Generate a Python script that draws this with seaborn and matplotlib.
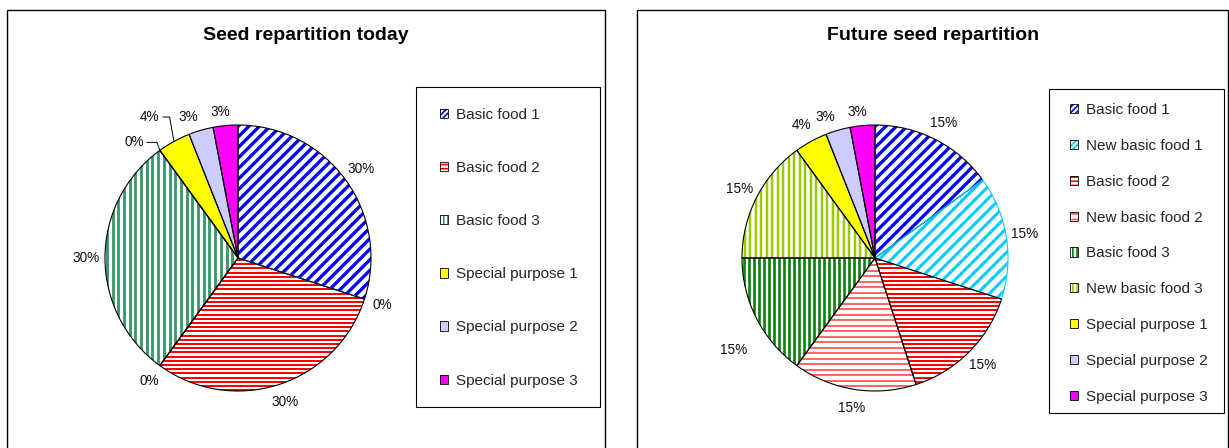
"""
Seed repartition pies: today vs. future.
"""

import numpy as np
import matplotlib
matplotlib.use('Agg')
import matplotlib.pyplot as plt
import seaborn as sns
from matplotlib.patches import Rectangle
from matplotlib.collections import LineCollection
from matplotlib.legend_handler import HandlerTuple

sns.set_theme(style='white')
plt.rcParams['font.family'] = ['Liberation Sans', 'DejaVu Sans']
plt.rcParams['hatch.linewidth'] = 1.2

# ---- data ----
categories = ['Basic food 1', 'New basic food 1', 'Basic food 2', 'New basic food 2',
              'Basic food 3', 'New basic food 3',
              'Special purpose 1', 'Special purpose 2', 'Special purpose 3']
today_pct = [30, 0, 30, 0, 30, 0, 4, 3, 3]
future_pct = [15, 15, 15, 15, 15, 15, 4, 3, 3]
today_legend = ['Basic food 1', 'Basic food 2', 'Basic food 3',
                'Special purpose 1', 'Special purpose 2', 'Special purpose 3']
future_legend = categories
titles = ['Seed repartition today', 'Future seed repartition']

# ---- styles (stripe step / width in pixels) ----
FUTURE_STYLE = {
    'Basic food 1': dict(color='#0000ff', angle=45, step=7.5, width=3.3, hatch='//////'),
    'New basic food 1': dict(color='#00ccff', angle=45, step=8.5, width=3.0, hatch='//////', edge='#00ccff'),
    'Basic food 2': dict(color='#ff0000', angle=0, step=4.2, width=2.0, hatch='----'),
    'New basic food 2': dict(color='#ff5555', angle=0, step=5.5, width=1.8, hatch='---'),
    'Basic food 3': dict(color='#008000', angle=90, step=5.0, width=2.6, hatch='||||'),
    'New basic food 3': dict(color='#99cc00', angle=90, step=5.5, width=2.5, hatch='||||'),
    'Special purpose 1': dict(color='#ffff00'),
    'Special purpose 2': dict(color='#ccccff'),
    'Special purpose 3': dict(color='#ff00ff'),
}
TODAY_STYLE = dict(FUTURE_STYLE)
TODAY_STYLE['Basic food 3'] = dict(color='#339966', angle=90, step=5.7, width=2.8, hatch='||||')

# label placement tweaks: name -> (angle deg, distance, leader angleB or None)
TODAY_LABELS = {
    'New basic food 3': (132, 1.17, 110),
    'Special purpose 1': (122, 1.25, 100),
    'Special purpose 2': (109.5, 1.125, None),
    'Special purpose 3': (97, 1.106, None),
}
FUTURE_LABELS = {
    'Basic food 3': (213, 1.27, None),
    'Special purpose 2': (109.5, 1.125, None),
    'Special purpose 3': (97, 1.106, None),
}

W, H = 1229, 448
R_PX = 133


def fx(px):
    return px / W


def fy(py):
    return 1 - py / H


def add_stripes(ax, wedge, st):
    t = np.deg2rad(st['angle'])
    d = np.array([np.cos(t), np.sin(t)])
    n = np.array([-np.sin(t), np.cos(t)])
    offs = np.arange(-1.5, 1.5, st['step'] / R_PX)
    segs = [[o * n - 1.5 * d, o * n + 1.5 * d] for o in offs]
    lc = LineCollection(segs, colors=st['color'], linewidths=st['width'] * 0.72, zorder=2)
    ax.add_collection(lc)
    lc.set_clip_path(wedge)


def draw_pie(ax, values, styles, label_fix):
    wedges, _ = ax.pie(values, startangle=90, counterclock=False, radius=1,
                       wedgeprops=dict(facecolor='white', edgecolor='none', linewidth=0))
    for w, name in zip(wedges, categories):
        st = styles[name]
        if 'angle' in st:
            w.set_facecolor('white')
            add_stripes(ax, w, st)
        else:
            w.set_facecolor(st['color'])

    # outlines drawn in slice order, so a coloured edge sits over the previous slice's edge
    outlines, _ = ax.pie(values, startangle=90, counterclock=False, radius=1,
                         wedgeprops=dict(facecolor='none', edgecolor='black', linewidth=0.8))
    for w, name in zip(outlines, categories):
        w.set_zorder(3)
        if 'edge' in styles[name]:
            w.set_edgecolor(styles[name]['edge'])

    for w, name, v in zip(wedges, categories, values):
        mid = np.deg2rad((w.theta1 + w.theta2) / 2)
        ang, dist, leader = np.rad2deg(mid), 1.14, None
        if name in label_fix:
            ang, dist, leader = label_fix[name]
        a = np.deg2rad(ang)
        pos = (dist * np.cos(a), dist * np.sin(a))
        if leader is None:
            ax.text(pos[0], pos[1], f'{v}%', ha='center', va='center',
                    fontsize=9.8, color='#111111', clip_on=False)
        else:
            tip = (np.cos(mid), np.sin(mid))
            ax.annotate(f'{v}%', xy=tip, xytext=pos, ha='center', va='center',
                        fontsize=9.8, color='#111111', annotation_clip=False,
                        arrowprops=dict(arrowstyle='-', color='black', lw=0.7,
                                        shrinkA=0, shrinkB=0, relpos=(1, 0.5),
                                        connectionstyle=f'angle,angleA=0,angleB={leader},rad=0'))
    ax.set_xlim(-1, 1)
    ax.set_ylim(-1, 1)
    ax.set_aspect('equal')
    ax.axis('off')


def add_legend(fig, names, styles, x_px, first_px, spacing):
    handles = []
    for name in names:
        st = styles[name]
        if 'hatch' in st:
            fill = Rectangle((0, 0), 1, 1, facecolor='white', edgecolor=st['color'],
                             hatch=st['hatch'], linewidth=0)
        else:
            fill = Rectangle((0, 0), 1, 1, facecolor=st['color'], linewidth=0)
        edge = Rectangle((0, 0), 1, 1, facecolor='none', edgecolor='black', linewidth=0.6)
        handles.append((fill, edge))
    fig.legend(handles, names, handler_map={tuple: HandlerTuple(ndivide=1)},
               loc='upper left', bbox_to_anchor=(fx(x_px), fy(first_px)),
               frameon=False, fontsize=11, handlelength=0.55, handleheight=0.55,
               handletextpad=0.5, labelspacing=spacing, borderpad=0, borderaxespad=0)


fig = plt.figure(figsize=(W / 100, H / 100), dpi=100)

# panel frames
for x0, x1 in [(7, 605), (637, 1228)]:
    fig.patches.append(Rectangle((fx(x0), fy(470)), fx(x1) - fx(x0), fy(10) - fy(470),
                                 transform=fig.transFigure, facecolor='none',
                                 edgecolor='black', linewidth=1.0))
# legend frames
for x0, y0, x1, y1 in [(416, 87, 600, 407), (1049, 89, 1224, 413)]:
    fig.patches.append(Rectangle((fx(x0), fy(y1)), fx(x1) - fx(x0), fy(y0) - fy(y1),
                                 transform=fig.transFigure, facecolor='none',
                                 edgecolor='black', linewidth=0.8))

panels = [
    (238, today_pct, TODAY_STYLE, TODAY_LABELS, today_legend, 440, 108, 2.56),
    (875, future_pct, FUTURE_STYLE, FUTURE_LABELS, future_legend, 1070, 103, 1.43),
]
for cx, vals, styles, fixes, leg_names, lx, ly, lsp in panels:
    ax = fig.add_axes([fx(cx - R_PX), fy(258 + R_PX), 2 * R_PX / W, 2 * R_PX / H])
    draw_pie(ax, vals, styles, fixes)
    add_legend(fig, leg_names, styles, lx, ly, lsp)

for tx, title in zip([306, 933], titles):
    fig.text(fx(tx), fy(36), title, ha='center', va='center',
             fontsize=14, fontweight='bold', color='black')

fig.savefig('out.png', dpi=100)
print("saved out.png")
